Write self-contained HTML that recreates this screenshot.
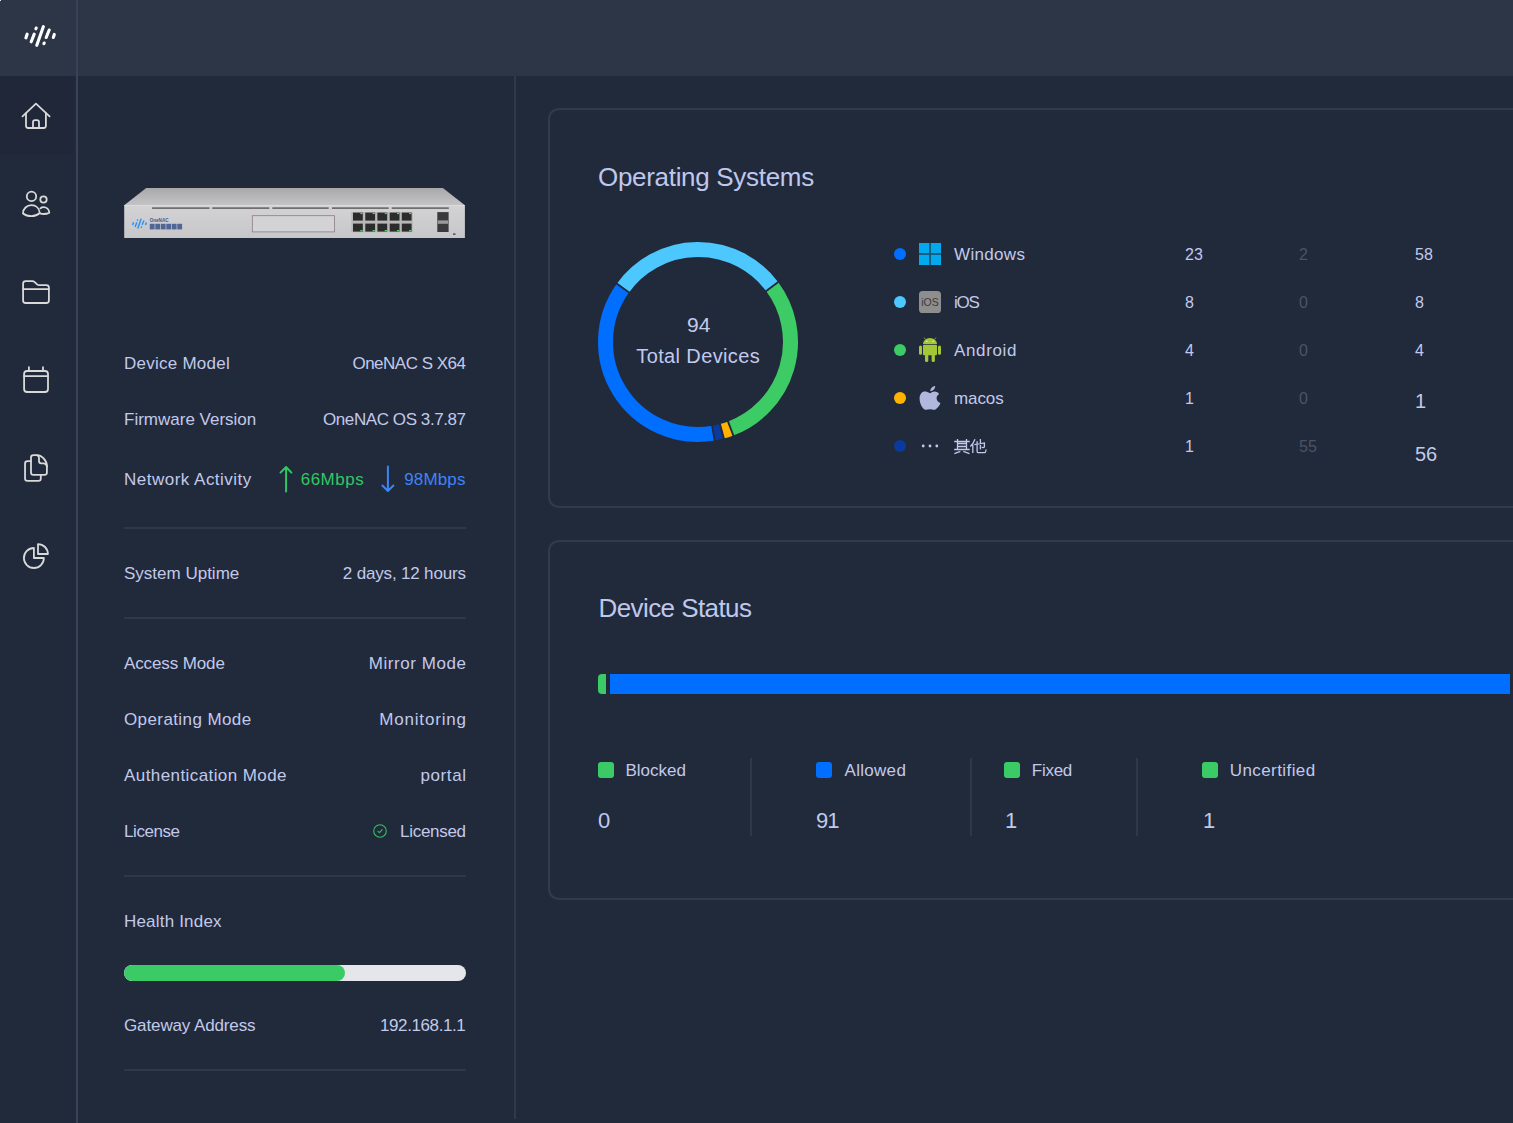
<!DOCTYPE html>
<html><head><meta charset="utf-8">
<style>
*{margin:0;padding:0;box-sizing:border-box}
html,body{width:1513px;height:1123px;overflow:hidden;position:relative;background:#212a3b;font-family:"Liberation Sans",sans-serif;color:#c2c9ea}
.a{position:absolute;white-space:nowrap}
#hdr{position:absolute;left:0;top:0;width:1513px;height:76px;background:#2d3647}
#sbl{position:absolute;left:76px;top:0;width:2px;height:1123px;background:#3a4356}
#pvl{position:absolute;left:514px;top:76px;width:2px;height:1043px;background:#303949}
.lbl{position:absolute;left:124px;font-size:17px;line-height:20px;color:#c2c9ea;white-space:nowrap}
.val{position:absolute;right:1047px;font-size:17px;line-height:20px;color:#c2c9ea;text-align:right;white-space:nowrap}
.hr{position:absolute;left:124px;width:342px;height:2px;background:#2f3749}
.card{position:absolute;left:548px;width:1000px;border:2px solid #323a4c;border-radius:11px}
.ttl{position:absolute;font-size:26px;line-height:30px;color:#bfc7ec;white-space:nowrap}
.leg{position:absolute;left:954px;font-size:17px;line-height:20px;color:#c2c9ea;white-space:nowrap}
.num{position:absolute;font-size:16px;line-height:20px;color:#c2c9ea;white-space:nowrap}
.dim{color:#4a5366}
.sq{position:absolute;top:762px;width:16px;height:16px;border-radius:3px}
.sl{position:absolute;top:761px;font-size:17px;line-height:20px;color:#c2c9ea;white-space:nowrap}
.sn{position:absolute;top:808.5px;font-size:22px;line-height:24px;letter-spacing:-1px;color:#c2c9ea;white-space:nowrap}
.vd{position:absolute;top:758px;width:2px;height:78px;background:#2f3749}
svg{position:absolute;left:0;top:0}
</style></head><body>
<div id="hdr"></div>
<div style="position:absolute;left:0;top:76px;width:74px;height:79px;background:#1f2738;border-radius:0 0 4px 0"></div>
<div id="sbl"></div>
<div style="position:absolute;left:0;top:0;width:1px;height:1px;background:#eee"></div>
<div id="pvl"></div>

<!-- left info panel -->
<div class="lbl" style="top:354px;letter-spacing:0.25px">Device Model</div><div class="val" style="top:354px;letter-spacing:-0.5px;right:1047.5px">OneNAC S X64</div>
<div class="lbl" style="top:410px">Firmware Version</div><div class="val" style="top:410px;letter-spacing:-0.42px;right:1047.4px">OneNAC OS 3.7.87</div>
<div class="lbl" style="top:470px;letter-spacing:0.49px">Network Activity</div>
<div class="a" style="left:300.7px;top:470px;font-size:17px;line-height:20px;color:#2fc862;letter-spacing:0.5px">66Mbps</div>
<div class="a" style="left:404.2px;top:470px;font-size:17px;line-height:20px;color:#3d84f7;letter-spacing:0.16px">98Mbps</div>
<div class="hr" style="top:527px"></div>
<div class="lbl" style="top:564px">System Uptime</div><div class="val" style="top:564px;letter-spacing:-0.17px;right:1047.2px">2 days, 12 hours</div>
<div class="hr" style="top:617px"></div>
<div class="lbl" style="top:654px;letter-spacing:-0.12px">Access Mode</div><div class="val" style="top:654px;letter-spacing:0.56px;right:1046.4px">Mirror Mode</div>
<div class="lbl" style="top:710px;letter-spacing:0.4px">Operating Mode</div><div class="val" style="top:710px;letter-spacing:0.82px;right:1046.2px">Monitoring</div>
<div class="lbl" style="top:766px;letter-spacing:0.42px">Authentication Mode</div><div class="val" style="top:766px;letter-spacing:0.6px;right:1046.4px">portal</div>
<div class="lbl" style="top:822px;letter-spacing:-0.42px">License</div><div class="val" style="top:822px;letter-spacing:-0.3px;right:1047.3px">Licensed</div>
<div class="hr" style="top:875px"></div>
<div class="lbl" style="top:912px;letter-spacing:0.19px">Health Index</div>
<div style="position:absolute;left:124px;top:965px;width:342px;height:16px;border-radius:8px;background:#e5e6ea;overflow:hidden"><div style="width:221px;height:16px;border-radius:8px;background:#3bcb66"></div></div>
<div class="lbl" style="top:1016px;letter-spacing:-0.12px">Gateway Address</div><div class="val" style="top:1016px;letter-spacing:-0.4px;right:1047.6px">192.168.1.1</div>
<div class="hr" style="top:1069px"></div>

<!-- cards -->
<div class="card" style="top:108px;height:400px"></div>
<div class="card" style="top:540px;height:360px"></div>
<div class="ttl" style="left:598px;top:161.5px;letter-spacing:-0.31px">Operating Systems</div>
<div class="ttl" style="left:598.5px;top:593px;letter-spacing:-0.58px">Device Status</div>

<!-- donut center -->
<div class="a" style="left:648.8px;width:100px;text-align:center;top:313.2px;font-size:21px;line-height:24px;color:#c2c9ec">94</div>
<div class="a" style="left:598px;width:200px;text-align:center;top:343.5px;font-size:20px;line-height:24px;color:#c2c9ec;letter-spacing:0.37px;text-indent:0.37px">Total Devices</div>

<!-- legend -->
<div class="leg" style="top:245px;letter-spacing:0.33px">Windows</div>
<div class="leg" style="top:293px;letter-spacing:-1.2px">iOS</div>
<div class="leg" style="top:341px;letter-spacing:0.63px">Android</div>
<div class="leg" style="top:389px;letter-spacing:-0.1px">macos</div>


<div class="num" style="left:1185px;top:245px">23</div>
<div class="num" style="left:1185px;top:293px">8</div>
<div class="num" style="left:1185px;top:341px">4</div>
<div class="num" style="left:1185px;top:389px">1</div>
<div class="num" style="left:1185px;top:437px">1</div>
<div class="num dim" style="left:1299px;top:245px">2</div>
<div class="num dim" style="left:1299px;top:293px">0</div>
<div class="num dim" style="left:1299px;top:341px">0</div>
<div class="num dim" style="left:1299px;top:389px">0</div>
<div class="num dim" style="left:1299px;top:437px">55</div>
<div class="num" style="left:1415px;top:245px">58</div>
<div class="num" style="left:1415px;top:293px">8</div>
<div class="num" style="left:1415px;top:341px">4</div>
<div class="num" style="left:1415px;top:389px;font-size:20px;line-height:24px">1</div>
<div class="num" style="left:1415px;top:442px;font-size:20px;line-height:24px">56</div>

<!-- device status -->
<div style="position:absolute;left:598px;top:674px;width:8.3px;height:20px;background:#3bcb66;border-radius:4px 0 0 4px"></div>
<div style="position:absolute;left:610px;top:674px;width:900px;height:20px;background:#006fff"></div>
<div class="sq" style="left:598px;background:#3bcb66"></div><div class="sl" style="left:625.5px">Blocked</div>
<div class="sq" style="left:816px;background:#006fff"></div><div class="sl" style="left:844.5px;letter-spacing:0.3px">Allowed</div>
<div class="sq" style="left:1004px;background:#3bcb66"></div><div class="sl" style="left:1031.8px;letter-spacing:-0.27px">Fixed</div>
<div class="sq" style="left:1202px;background:#3bcb66"></div><div class="sl" style="left:1229.8px;letter-spacing:0.41px">Uncertified</div>
<div class="vd" style="left:750px"></div>
<div class="vd" style="left:970px"></div>
<div class="vd" style="left:1136px"></div>
<div class="sn" style="left:598px">0</div>
<div class="sn" style="left:816px">91</div>
<div class="sn" style="left:1005px">1</div>
<div class="sn" style="left:1203px">1</div>

<svg width="1513" height="1123" viewBox="0 0 1513 1123">
<!-- logo -->
<g stroke="#fff" stroke-width="3.1" stroke-linecap="round" fill="none">
<path d="M27.2,34.1 L25.9,37.9"/>
<path d="M36.2,28 L35.9,28.8"/>
<path d="M34.2,34.1 L31.2,41.8"/>
<path d="M43.4,26.6 L36.8,45.3"/>
<path d="M49.2,30 L46.2,37.5"/>
<path d="M44.2,43 L43.9,43.6"/>
<path d="M54.3,34.4 L53.3,37.5"/>
</g>
<!-- sidebar icons -->
<g stroke="#d9d9d9" stroke-width="1.8" fill="none" stroke-linecap="round" stroke-linejoin="round">
<path d="M22.5,116.3 L35.95,103.6 L49.6,116.3"/>
<path d="M26,113.4 V125.8 Q26,128 28.2,128 H43.7 Q45.9,128 45.9,125.8 V113.4"/>
<path d="M33,128 V122.3 Q33,120.1 35.2,120.1 H36.8 Q39,120.1 39,122.3 V128"/>
<circle cx="31.5" cy="196.4" r="4.7"/>
<circle cx="43.5" cy="199.5" r="3.2"/>
<path d="M23,213.5 C23,208.6 26.8,205.2 31.5,205.2 C36,205.2 39.3,208.4 39.8,213 C37.3,215.3 34.5,216.2 31.5,216.2 C28.2,216.2 25.2,215.3 23,213.5 Z"/>
<path d="M40.4,208.4 C41.3,207.6 42.3,207.2 43.5,207.2 C46.6,207.2 49,209.6 49.3,212.6 C47.6,213.6 45.5,214 43.5,214 C42.2,214 41.1,213.8 40.1,213.4"/>
<path d="M23.1,283.6 Q23.1,281.1 25.6,281.1 H32.4 Q33.5,281.1 34.4,281.9 L37.1,284.3 Q38,285.1 39.2,285.1 H46.4 Q48.9,285.1 48.9,287.6 V300.5 Q48.9,303 46.4,303 H25.6 Q23.1,303 23.1,300.5 Z"/>
<path d="M23.1,289.1 H48.9"/>
<rect x="24.1" y="371" width="23.9" height="21" rx="3"/>
<path d="M24.1,376.1 H48 M28.9,367.2 V371 M43,367.2 V371"/>
<path d="M31,457.5 Q31,455.1 33.4,455.1 H37 Q40.5,455.1 43.4,458.2 Q46.9,461.8 46.9,466.2 V472.4 Q46.9,474.8 44.5,474.8 H33.4 Q31,474.8 31,472.4 Z"/>
<path d="M37.2,455.3 Q39,455.8 39,458 V461 Q39,463.3 41.3,463.3 H43.8 Q46.6,463.6 46.9,466.4"/>
<path d="M31,461.1 H27.5 Q25.05,461.1 25.05,463.5 V478.5 Q25.05,480.9 27.5,480.9 H38.4 Q40.8,480.9 40.8,478.5 V474.8"/>
<path d="M33.9,548 V558 H43.9 A10,10 0 1 1 33.9,548 Z"/>
<path d="M38,544.1 A9.9,9.9 0 0 1 47.9,554 H38 Z"/>
</g>
<!-- network arrows -->
<g stroke-width="2" fill="none" stroke-linecap="round" stroke-linejoin="round">
<path d="M286.1,467 V491.5 M280.5,472.6 L286.1,467 L291.4,472.6" stroke="#2fc862"/>
<path d="M387.9,466.5 V491 M382.4,485.5 L387.9,491 L393.4,485.5" stroke="#3d84f7"/>
</g>
<!-- license check -->
<circle cx="380" cy="831" r="6.3" stroke="#33c25e" stroke-width="1.1" fill="none"/>
<path d="M377.9,831.3 L379.5,832.7 L382.1,829.7" stroke="#33c25e" stroke-width="1.1" fill="none" stroke-linecap="round" stroke-linejoin="round"/>
<!-- donut -->
<g fill="none" stroke-width="15">
<path d="M622.88,288.02 A92.5,92.5 0 0 1 772.07,286.59" stroke="#4cc8ff"/>
<path d="M772.07,286.59 A92.5,92.5 0 0 1 730.70,428.53" stroke="#3ccb65"/>
<path d="M730.70,428.53 A92.5,92.5 0 0 1 721.94,431.35" stroke="#ffb300"/>
<path d="M721.94,431.35 A92.5,92.5 0 0 1 713.43,433.20" stroke="#0a3b9c"/>
<path d="M713.43,433.20 A92.5,92.5 0 0 1 622.88,288.02" stroke="#006fff"/>
</g>
<g stroke="#212a3b" stroke-width="1.9">
<line x1="629.78" y1="292.98" x2="615.98" y2="283.06"/>
<line x1="765.26" y1="291.68" x2="778.87" y2="281.50"/>
<line x1="727.69" y1="420.58" x2="733.70" y2="436.48"/>
<line x1="719.74" y1="423.14" x2="724.14" y2="439.56"/>
<line x1="712.01" y1="424.82" x2="714.84" y2="441.59"/>
</g>
<!-- legend dots -->
<circle cx="900" cy="254" r="6" fill="#006fff"/>
<circle cx="900" cy="302" r="6" fill="#4cc8ff"/>
<circle cx="900" cy="350" r="6" fill="#3ccb65"/>
<circle cx="900" cy="398" r="6" fill="#ffb300"/>
<circle cx="900" cy="446" r="6" fill="#0a3b9c"/>
<!-- windows -->
<rect x="919" y="243" width="22" height="22" fill="#1a5679"/>
<g fill="#02a9ec">
<rect x="919" y="243" width="10.1" height="10.1"/><rect x="930.9" y="243" width="10.1" height="10.1"/>
<rect x="919" y="254.9" width="10.1" height="10.1"/><rect x="930.9" y="254.9" width="10.1" height="10.1"/>
</g>
<!-- ios -->
<rect x="919" y="291" width="22" height="22" rx="3.6" fill="#8e8e8e"/>
<text x="930" y="306.3" font-family="Liberation Sans" font-size="10.5" fill="#3a3a3a" text-anchor="middle">iOS</text>
<!-- android -->
<g fill="#a4c639">
<path d="M923,344 A7,6 0 0 1 937,344 Z"/>
<rect x="923" y="344.8" width="14" height="10.4" rx="1"/>
<rect x="919" y="345.5" width="3" height="9.3" rx="1.5"/>
<rect x="938" y="345.5" width="3" height="9.3" rx="1.5"/>
<rect x="925" y="354" width="3.3" height="8" rx="1.6"/>
<rect x="931.6" y="354" width="3.3" height="8" rx="1.6"/>
</g>
<g stroke="#a4c639" stroke-width="0.7"><line x1="924" y1="337.5" x2="925.6" y2="339.6"/><line x1="936" y1="337.5" x2="934.4" y2="339.6"/></g>
<circle cx="926.8" cy="341.3" r="0.8" fill="#eef5d8"/><circle cx="933.1" cy="341.3" r="0.8" fill="#eef5d8"/>
<!-- apple -->
<g fill="#b0b8de">
<path d="M930,393.2 C928,392 925.8,391.3 924.2,391.5 C921.2,392 919.6,395 919.6,398.5 C919.6,403 922,408 924.5,409.5 C926,410.3 927.5,409.6 930,409.3 C932.5,409.6 934,410.3 935.5,409.5 C937.5,408.3 939.5,405.5 940.5,403 C938,402 936.6,400.2 936.6,398.2 C936.6,396.2 937.7,394.8 939.2,394 C937.8,392 936,391.4 934.5,391.4 C933,391.4 931.5,392.3 930,393.2 Z"/>
<path d="M930.3,391.2 C930.2,388.5 932.5,386.3 935.2,386 C935.3,388.6 932.9,391 930.3,391.2 Z"/>
</g>
<!-- other dots -->
<g fill="#c2c9ea"><circle cx="923.2" cy="446" r="1.4"/><circle cx="930" cy="446" r="1.4"/><circle cx="936.8" cy="446" r="1.4"/></g>
<!-- qita -->
<g stroke="#c2c9ea" stroke-width="1.3" fill="none" stroke-linecap="butt">
<path d="M954.2,441.5 H969.7 M957.5,439 V449.3 M966.5,439 V449.3 M957.5,443.5 H966.5 M957.5,446.5 H966.5 M954.2,449.5 H969.7"/>
<path d="M960.3,451.4 L954.4,453.6 M963.3,451.4 L969.5,453.6"/>
<path d="M975,439.3 Q973.5,443.5 970.3,446.5 M972.8,444.6 V452.9"/>
<path d="M974.4,444.6 L984.4,442.9 V446.8 Q984.4,447.6 983.4,447.6 L981.6,447.4 M980.4,439.1 V449.5 M977.1,441.2 V451.6 Q977.1,452.6 978.1,452.6 H984.8 Q985.8,452.6 986,449.5"/>
</g>
<!-- device -->
<defs>
<linearGradient id="gt" x1="0" y1="0" x2="0" y2="1"><stop offset="0" stop-color="#a9a9ab"/><stop offset="0.6" stop-color="#b9b9bb"/><stop offset="1" stop-color="#c4c4c6"/></linearGradient>
<linearGradient id="gf" x1="0" y1="0" x2="0" y2="1"><stop offset="0" stop-color="#d3d3d5"/><stop offset="1" stop-color="#c7c7c9"/></linearGradient>
</defs>
<polygon points="146.2,188 442.9,188 464.9,205.2 124.2,205.2" fill="url(#gt)"/>
<rect x="124.2" y="205.2" width="340.7" height="32.8" fill="url(#gf)"/>
<rect x="124.2" y="205.2" width="340.7" height="0.8" fill="#e4e4e6"/>
<g fill="#5a5658">
<rect x="152.1" y="207.4" width="57.4" height="1.4"/>
<rect x="212.2" y="207.4" width="57.1" height="1.4"/>
<rect x="272.3" y="207.4" width="56.4" height="1.4"/>
<rect x="331.9" y="207.4" width="56.8" height="1.4"/>
<rect x="391.7" y="207.4" width="57.1" height="1.4"/>
</g>
<rect x="252.3" y="215.7" width="82.2" height="16.2" fill="#d3d3d5" stroke="#8c7c88" stroke-width="0.8"/>
<rect x="351.3" y="212" width="61.5" height="20.2" fill="#b8b8b8"/>
<g fill="#2c2c2c">
<rect x="353" y="212.6" width="9.8" height="8"/><rect x="365.3" y="212.6" width="9.8" height="8"/><rect x="377.4" y="212.6" width="9.8" height="8"/><rect x="389.7" y="212.6" width="9.8" height="8"/><rect x="401.8" y="212.6" width="9.8" height="8"/>
<rect x="353" y="223.6" width="9.8" height="8"/><rect x="365.3" y="223.6" width="9.8" height="8"/><rect x="377.4" y="223.6" width="9.8" height="8"/><rect x="389.7" y="223.6" width="9.8" height="8"/><rect x="401.8" y="223.6" width="9.8" height="8"/>
</g>
<g fill="#4fd86a">
<rect x="360.3" y="212.8" width="2.2" height="1.3"/><rect x="372.6" y="212.8" width="2.2" height="1.3"/><rect x="384.7" y="212.8" width="2.2" height="1.3"/><rect x="397" y="212.8" width="2.2" height="1.3"/><rect x="409.1" y="212.8" width="2.2" height="1.3"/>
<rect x="360.3" y="230" width="2.2" height="1.3"/><rect x="372.6" y="230" width="2.2" height="1.3"/><rect x="384.7" y="230" width="2.2" height="1.3"/><rect x="397" y="230" width="2.2" height="1.3"/><rect x="409.1" y="230" width="2.2" height="1.3"/>
</g>
<rect x="437.3" y="212.1" width="11.3" height="19.9" fill="#3a3a3c"/>
<rect x="437.8" y="220.4" width="10.3" height="3.4" fill="#9a9a9c"/>
<rect x="453" y="233.5" width="2.5" height="1.2" fill="#333"/>
<g transform="translate(120.6,206.8) scale(0.47)" stroke="#2f8ff2" stroke-width="3.1" stroke-linecap="round" fill="none">
<path d="M27.2,34.1 L25.9,37.9"/><path d="M36.2,28 L35.9,28.8"/><path d="M34.2,34.1 L31.2,41.8"/><path d="M43.4,26.6 L36.8,45.3"/><path d="M49.2,30 L46.2,37.5"/><path d="M44.2,43 L43.9,43.6"/><path d="M54.3,34.4 L53.3,37.5"/>
</g>
<text x="149.7" y="221.9" font-family="Liberation Sans" font-weight="bold" font-size="4.6" fill="#1d3b7c" opacity="0.8">OneNAC</text>
<g fill="#1d3b7c" opacity="0.7">
<rect x="149.8" y="223.8" width="4.8" height="5.6"/><rect x="155.3" y="223.8" width="4.8" height="5.6"/><rect x="160.8" y="223.8" width="4.8" height="5.6"/><rect x="166.3" y="223.8" width="4.8" height="5.6"/><rect x="171.8" y="223.8" width="4.8" height="5.6"/><rect x="177.3" y="223.8" width="4.8" height="5.6"/>
</g>
</svg>

</body></html>
